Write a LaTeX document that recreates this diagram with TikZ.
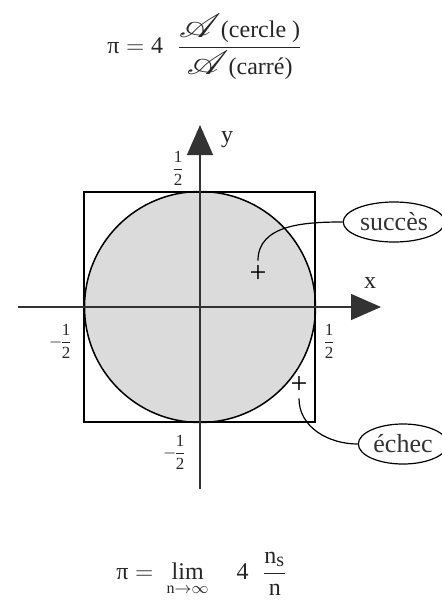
\documentclass[tikz,border=0pt]{standalone}
\usepackage{amsmath}
\usepackage{amssymb}
\usepackage{mathrsfs}
\usepackage{graphicx}
\usepackage{fontspec}
\setmainfont{Liberation Serif}
\usepackage{tikz}
\usetikzlibrary{arrows.meta}
\usetikzlibrary{shapes.geometric}

\newcommand{\aire}{\scalebox{1.7}[1.4]{$\mathscr{A}$}}

\begin{document}
\begin{tikzpicture}[x=0.5pt, y=-0.5pt,
    txt/.style={inner sep=0pt, text=black!85, font=\fontsize{12}{14}\selectfont},
    half/.style={inner sep=0pt, text=black!85, font=\fontsize{8.5}{10}\selectfont},
    bubble/.style={ellipse, draw, line width=0.6pt, inner xsep=1pt, inner ysep=0pt,
        minimum height=20pt, text=black!80, font=\fontsize{13}{15}\selectfont},
    hit/.style={inner sep=0pt, outer sep=2.5pt, font=\fontsize{15}{15}\selectfont},
    axis/.style={line width=0.65pt, black!80, -{Triangle[length=15pt,width=13pt]}}]

    \useasboundingbox (0,0) rectangle (442,600);

    \coordinate (o) at (200,307);

    \coordinate (sq1) at (84,192);
    \coordinate (sq2) at (315,422);

    \coordinate (xa) at (18,307);
    \coordinate (xb) at (381,307);

    \coordinate (ya) at (200,489);
    \coordinate (yb) at (200,125);



   \filldraw[fill=black!14, line width=0.75pt] (o) circle (115.5);

   \draw[line width=0.65pt] (sq1) rectangle (sq2);


    \draw[axis] (xa) -- (xb);
    \draw[axis] (ya) -- (yb);

    \node[txt] (xl) at (370,283) {x};
    \node[txt] (yl) at (227,140) {y};

    \node[half] (top) at (178,168) {$\dfrac{\text{1}}{\text{2}}$};
    \node[half] (right) at (329,341) {$\dfrac{\text{1}}{\text{2}}$};
    \node[half] (left) at (61,341) {$-\!\dfrac{\text{1}}{\text{2}}$};
    \node[half] (bottom) at (175,452) {$-\!\dfrac{\text{1}}{\text{2}}$};


    \node[hit] (p1) at (258,274) {+};
    \node[hit] (p2) at (299,385) {+};

    \node[bubble] (ok) at (394,222) {succès};
    \node[bubble] (ko) at (403,444) {échec};

    \draw[line width=0.6pt] (p1.north) to[out=90, in=180] (ok.west);
    \draw[line width=0.6pt] (p2.south) to[out=-90, in=180] (ko.west);


    \node[txt] (ratio) at (205,47)
        {$\text{π} = \text{4}\;\;\dfrac{\aire\text{(cercle )}}{\aire\text{(carré)}}$};

    \node[txt] (limit) at (202,574)
        {$\text{π} = \;\mathop{\text{lim}}\limits_{\text{n}\to\infty}\quad\text{4}\;\;\dfrac{\text{n}_{\text{\fontsize{10}{10}\selectfont s}}}{\text{n}}$};

\end{tikzpicture}
\end{document}
